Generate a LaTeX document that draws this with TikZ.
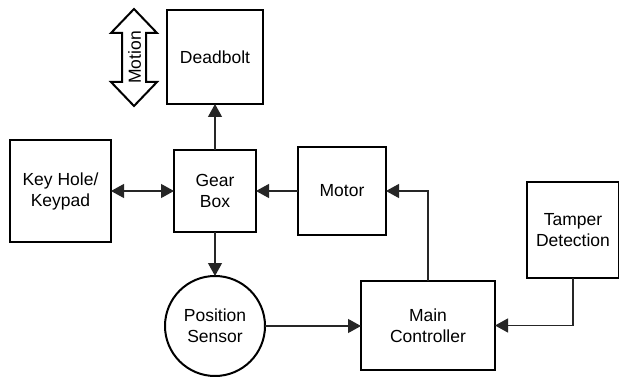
\documentclass[tikz,border=0pt]{standalone}
\usepackage{fontspec}
\setmainfont{Liberation Sans}
\usetikzlibrary{arrows.meta}
\begin{document}
\begin{tikzpicture}[x=1pt,y=-1pt,
  box/.style={draw=black,line width=2pt,rectangle,outer sep=0pt,inner sep=0pt,align=center,
    font=\fontsize{17.5}{21}\selectfont},
  conn/.style={draw=black!85,line width=1.2pt,-{Triangle[length=13pt,width=14pt]}},
  biconn/.style={draw=black!85,line width=1.2pt,{Triangle[length=13pt,width=14pt]}-{Triangle[length=13pt,width=14pt]}}]
\useasboundingbox (0,0) rectangle (619,377);
\node[box,minimum width=96pt,minimum height=94pt] (deadbolt) at (215,57) {Deadbolt};
\node[box,minimum width=101pt,minimum height=102pt] (keyhole) at (60.5,191) {Key Hole/\\Keypad};
\node[box,minimum width=82pt,minimum height=82pt] (gearbox) at (215,191) {Gear\\Box};
\node[box,minimum width=88pt,minimum height=88pt] (motor) at (342,191) {Motor};
\node[box,minimum width=92pt,minimum height=96pt] (tamper) at (573,230) {Tamper\\Detection};
\node[box,minimum width=134pt,minimum height=89pt] (main) at (428,325.5) {Main\\Controller};
\node[box,circle,minimum size=100pt] (sensor) at (215,326) {Position\\Sensor};
% motion double arrow
\draw[line width=2pt,line join=miter,fill=white] (134,9) -- (157,33) -- (146,33) -- (146,82) -- (157,82) -- (134,106)
  -- (111,82) -- (122,82) -- (122,33) -- (111,33) -- cycle;
\node[rotate=90,font=\fontsize{17.5}{21}\selectfont,inner sep=0pt] (motion) at (134.5,57.5) {Motion};
% connectors
\draw[conn] (gearbox.north) -- (deadbolt.south);
\draw[biconn] (keyhole.east) -- (gearbox.west);
\draw[conn] (motor.west) -- (gearbox.east);
\draw[conn] (gearbox.south) -- (sensor.north);
\draw[conn] (sensor.east) -- (sensor.east -| main.west);
\draw[conn] (main.north) |- (motor.east);
\draw[conn] (tamper.south) |- (main.east);
\end{tikzpicture}
\end{document}
